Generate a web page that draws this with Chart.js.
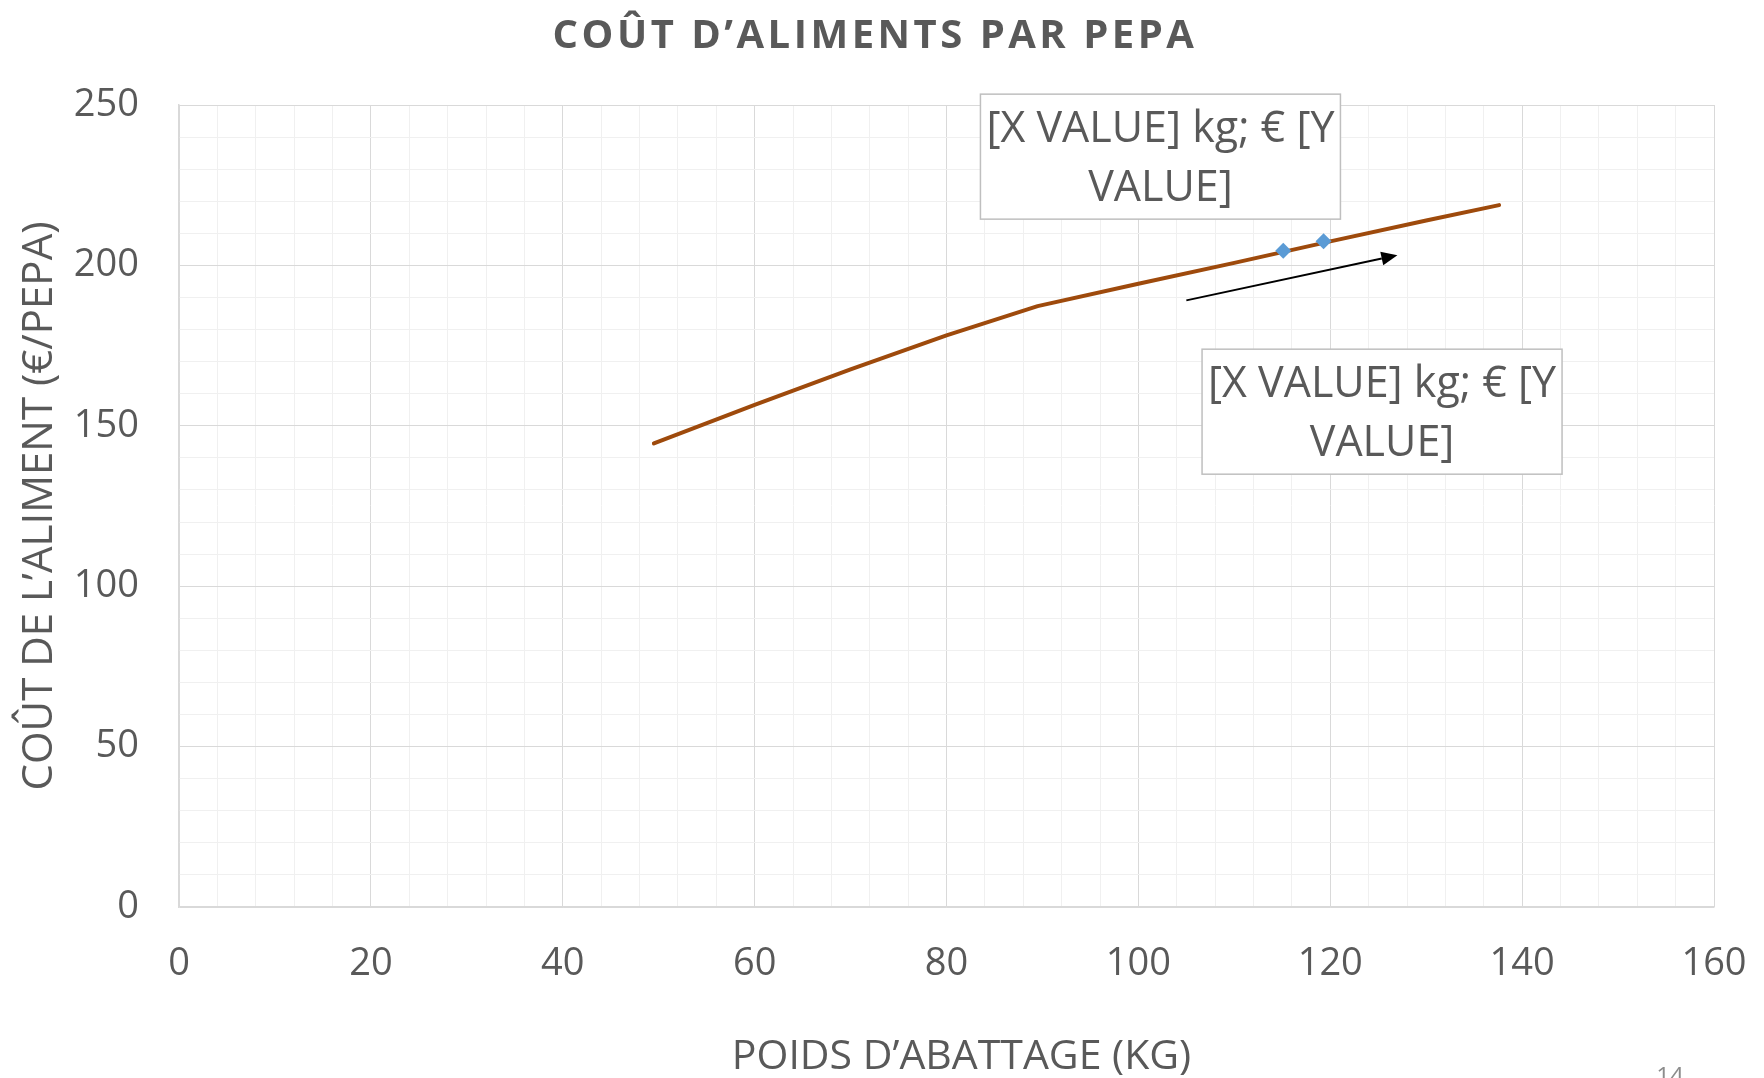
<!DOCTYPE html>
<html><head><meta charset="utf-8">
<script src="https://cdn.jsdelivr.net/npm/chart.js@4.4.1/dist/chart.umd.min.js"></script>
<style>html,body{margin:0;padding:0;background:#fff;overflow:hidden}canvas{display:block}</style>
</head><body>
<canvas id="c" width="1764" height="1078"></canvas>
<script>
// ---- data ----
const weightKg = [49.5, 60, 70, 80, 89.5, 100, 110, 120, 130, 137.6];
const feedCostEur = [144.5, 156.5, 167.6, 178.2, 187.3, 194.3, 200.8, 207.5, 214.0, 218.8];
const markedWeightKg = [115.1, 119.3];
const markedCostEur = [204.6, 207.5];
const xMajorTicks = [0, 20, 40, 60, 80, 100, 120, 140, 160];
const yMajorTicks = [0, 50, 100, 150, 200, 250];
const chartTitle = 'COÛT D’ALIMENTS PAR PEPA';
const xAxisTitle = 'POIDS D’ABATTAGE (KG)';
const yAxisTitle = 'COÛT DE L’ALIMENT (€/PEPA)';
const pointLabelLines = ['[X VALUE] kg; € [Y', 'VALUE]'];
const slideNumber = '14';

// ---- annotation placement (data units) ----
const labelBoxCenters = [{x: 102.3, y: 233.9}, {x: 125.4, y: 154.4}];
const arrowFrom = {x: 105.0, y: 189.1};
const arrowTo = {x: 127.0, y: 203.2};

// ---- styles ----
const FONT = "'Open Sans', 'Noto Sans', sans-serif";
const TEXT = '#595959';
const MAJOR_GRID = '#d9d9d9';
const MINOR_GRID = '#f0f0f0';

const overlay = {
  id: 'overlay',
  beforeDraw(chart) {
    const tb = chart.titleBlock;
    if (tb && !tb._spaced) {
      const orig = tb.draw;
      tb.draw = function () {
        const ctx = this.ctx; ctx.save();
        ctx.letterSpacing = '3.5px';
        ctx.translate(18, 0);
        orig.apply(this, arguments);
        ctx.restore();
      };
      tb._spaced = true;
    }
    const xs = chart.scales.x;
    if (xs && !xs._shifted) {
      const o = xs.drawTitle;
      xs.drawTitle = function () {
        this.ctx.save(); this.ctx.translate(15, 0);
        o.apply(this, arguments);
        this.ctx.restore();
      };
      xs._shifted = true;
    }
  },
  afterDatasetsDraw(chart) {
    const ctx = chart.ctx, xs = chart.scales.x, ys = chart.scales.y;
    // arrow
    const x1 = xs.getPixelForValue(arrowFrom.x), y1 = ys.getPixelForValue(arrowFrom.y);
    const x2 = xs.getPixelForValue(arrowTo.x), y2 = ys.getPixelForValue(arrowTo.y);
    const ang = Math.atan2(y2 - y1, x2 - x1);
    const hl = 16, hw = 7;
    ctx.save();
    ctx.strokeStyle = '#000'; ctx.fillStyle = '#000'; ctx.lineWidth = 2;
    ctx.beginPath(); ctx.moveTo(x1, y1);
    ctx.lineTo(x2 - hl * Math.cos(ang), y2 - hl * Math.sin(ang)); ctx.stroke();
    ctx.beginPath(); ctx.moveTo(x2, y2);
    ctx.lineTo(x2 - hl * Math.cos(ang) + hw * Math.sin(ang), y2 - hl * Math.sin(ang) - hw * Math.cos(ang));
    ctx.lineTo(x2 - hl * Math.cos(ang) - hw * Math.sin(ang), y2 - hl * Math.sin(ang) + hw * Math.cos(ang));
    ctx.closePath(); ctx.fill();
    // label boxes
    const bw = 360, bh = 125, lh = 59;
    labelBoxCenters.forEach(c => {
      const cx = xs.getPixelForValue(c.x), cy = ys.getPixelForValue(c.y);
      ctx.fillStyle = '#fff';
      ctx.fillRect(cx - bw / 2, cy - bh / 2, bw, bh);
      ctx.strokeStyle = '#bfbfbf'; ctx.lineWidth = 1.5;
      ctx.strokeRect(cx - bw / 2, cy - bh / 2, bw, bh);
      ctx.fillStyle = TEXT; ctx.font = '43px ' + FONT;
      ctx.textAlign = 'center'; ctx.textBaseline = 'middle';
      pointLabelLines.forEach((t, i) => {
        ctx.fillText(t, cx, cy + 3 + (i - (pointLabelLines.length - 1) / 2) * lh);
      });
    });
    ctx.restore();
  },
  afterDraw(chart) {
    const ctx = chart.ctx;
    ctx.save();
    ctx.fillStyle = '#8c8c8c'; ctx.font = '24px ' + FONT;
    ctx.textAlign = 'center'; ctx.textBaseline = 'alphabetic';
    ctx.fillText(slideNumber, 1670, 1084);
    ctx.restore();
  }
};

new Chart(document.getElementById('c'), {
  type: 'scatter',
  data: {
    datasets: [
      {
        label: 'marked',
        data: markedWeightKg.map((x, i) => ({x, y: markedCostEur[i]})),
        showLine: false,
        pointStyle: 'rectRot',
        pointRadius: 8,
        pointBackgroundColor: '#5B9BD5',
        pointBorderColor: '#5B9BD5',
        pointBorderWidth: 0,
        order: 0
      },
      {
        label: 'cost',
        data: weightKg.map((x, i) => ({x, y: feedCostEur[i]})),
        showLine: true,
        borderColor: '#9E4A0C',
        borderWidth: 4,
        pointRadius: 0,
        tension: 0,
        borderCapStyle: 'round',
        borderJoinStyle: 'round',
        order: 1
      }
    ]
  },
  options: {
    responsive: false,
    animation: false,
    layout: {padding: {left: 0, right: 50, top: 0, bottom: 0}},
    plugins: {
      legend: {display: false},
      tooltip: {enabled: false},
      title: {
        display: true, text: chartTitle, color: TEXT,
        font: {family: FONT, size: 40, weight: 'bold', lineHeight: 1.2},
        padding: {top: 13, bottom: 44}
      }
    },
    scales: {
      x: {
        type: 'linear', position: 'bottom', min: 0, max: 160,
        afterFit(s) { s.height = 171; s.paddingLeft = 0; s.paddingRight = 0; },
        ticks: {
          stepSize: 4, autoSkip: false, maxRotation: 0, minRotation: 0,
          padding: 34, color: TEXT, font: {family: FONT, size: 38},
          callback: v => xMajorTicks.includes(v) ? String(v) : ''
        },
        grid: {
          drawTicks: false, lineWidth: 1,
          color: c => (c.tick && xMajorTicks.includes(c.tick.value)) ? MAJOR_GRID : MINOR_GRID
        },
        border: {color: MAJOR_GRID, width: 1.5},
        title: {
          display: true, text: xAxisTitle, color: TEXT,
          font: {family: FONT, size: 41, lineHeight: 1.0},
          padding: {top: 0, bottom: 0}
        }
      },
      y: {
        type: 'linear', position: 'left', min: 0, max: 250,
        afterFit(s) { s.width = 179; s.paddingTop = 0; s.paddingBottom = 0; },
        ticks: {
          stepSize: 10, autoSkip: false,
          padding: 40, color: TEXT, font: {family: FONT, size: 38},
          callback: v => yMajorTicks.includes(v) ? String(v) : ''
        },
        grid: {
          drawTicks: false, lineWidth: 1,
          color: c => (c.tick && yMajorTicks.includes(c.tick.value)) ? MAJOR_GRID : MINOR_GRID
        },
        border: {color: MAJOR_GRID, width: 1.5},
        title: {
          display: true, text: yAxisTitle, color: TEXT,
          font: {family: FONT, size: 42, lineHeight: 1.2},
          padding: {top: 15, bottom: 0}
        }
      }
    }
  },
  plugins: [overlay]
});
</script>
</body></html>
